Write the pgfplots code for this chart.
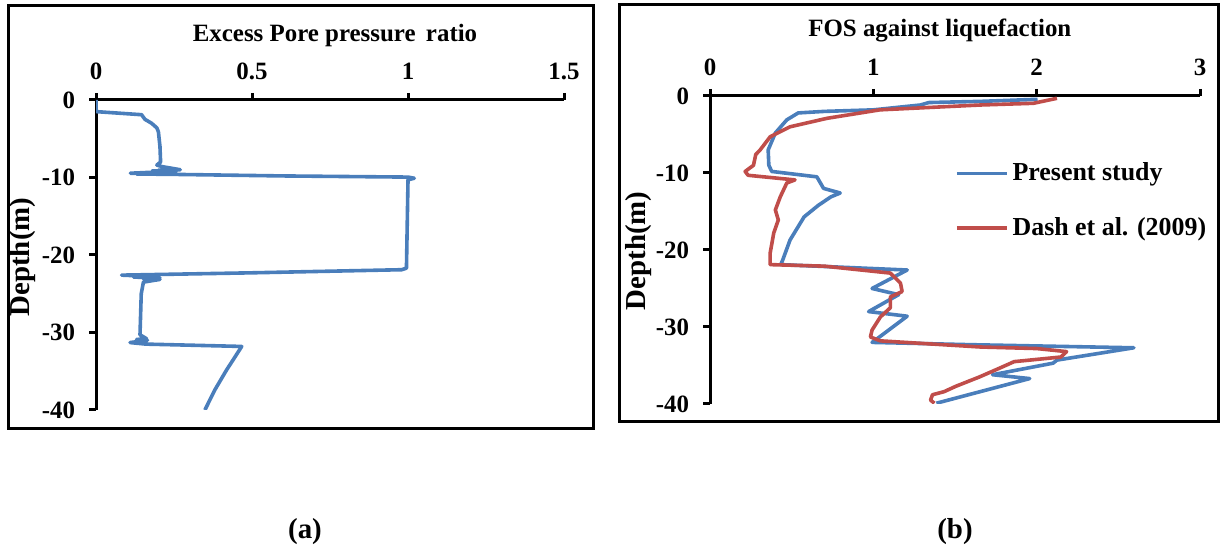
\documentclass[border=0pt]{standalone}
\usepackage{pgfplots}
\pgfplotsset{compat=1.18}
\usepackage{fontspec}
\setmainfont{Liberation Serif}

\definecolor{fosblue}{RGB}{74,126,187}
\definecolor{dashred}{RGB}{192,77,74}

% Depth profile of the excess pore pressure ratio
\pgfplotstableread{
r      d
0      0
0      -1.5
0.146  -1.9
0.157  -2.5
0.178  -3.0
0.195  -3.6
0.200  -4.1
0.205  -6.0
0.207  -8.0
0.195  -8.4
0.212  -8.6
0.270  -9.0
0.200  -9.05
0.260  -9.1
0.180  -9.15
0.250  -9.2
0.110  -9.45
0.230  -9.5
0.130  -9.55
0.250  -9.6
0.600  -9.8
1.000  -9.95
1.020  -10.1
1.000  -10.3
0.995  -21.7
0.980  -21.9
0.500  -22.3
0.082  -22.6
0.200  -22.8
0.120  -22.85
0.205  -22.95
0.150  -23.0
0.205  -23.15
0.152  -23.5
0.145  -25.0
0.141  -30.3
0.162  -30.8
0.130  -30.9
0.165  -31.0
0.109  -31.3
0.160  -31.5
0.467  -31.8
0.440  -33.5
0.419  -34.8
0.381  -37.4
0.349  -40.0
}\ruratio

% Factor of safety, present study
\pgfplotstableread{
f      d
2.005  -0.43
1.656  -0.70
1.340  -0.85
1.288  -1.17
1.000  -1.80
0.700  -2.00
0.540  -2.20
0.470  -3.10
0.400  -4.80
0.356  -7.00
0.360  -9.00
0.378  -9.80
0.654  -10.5
0.695  -12.0
0.797  -12.6
0.740  -13.1
0.663  -14.2
0.576  -15.7
0.490  -18.7
0.445  -21.3
0.433  -21.9
1.207  -22.6
0.992  -25.0
1.155  -25.8
0.971  -28.0
1.207  -28.6
1.012  -31.7
0.992  -32.0
1.600  -32.3
2.595  -32.7
2.124  -34.3
2.100  -34.7
1.730  -36.2
1.957  -36.7
1.386  -39.9
}\fospresent

% Factor of safety, Dash et al. (2009)
\pgfplotstableread{
f      d
2.124  -0.30
1.980  -0.95
1.656  -1.17
1.040  -1.80
0.716  -2.90
0.490  -4.00
0.368  -5.30
0.307  -7.00
0.280  -7.6
0.266  -9.00
0.215  -9.80
0.233  -10.3
0.520  -10.9
0.470  -11.3
0.430  -13.1
0.400  -14.8
0.418  -16.1
0.390  -17.8
0.380  -19.0
0.368  -20.4
0.368  -21.9
0.700  -22.1
1.104  -23.0
1.166  -24.3
1.176  -25.4
1.104  -26.1
1.104  -27.5
1.043  -28.7
0.992  -30.4
0.982  -31.3
1.043  -31.8
1.656  -32.6
2.000  -32.8
2.183  -33.2
2.148  -33.9
1.862  -34.5
1.767  -35.4
1.648  -36.5
1.505  -37.7
1.433  -38.4
1.362  -38.8
1.350  -39.5
1.374  -39.9
}\fosdash

\pgfplotsset{
  depthaxis/.style={
    scale only axis,
    axis x line=top,
    axis y line=left,
    axis line style={line width=1.5bp,-},
    tick style={line width=1.5bp,black},
    major tick length=3.5bp,
    tick align=outside,
    ymin=-40, ymax=0,
    ytick={-40,-30,-20,-10,0},
    font=\fontsize{12.5}{14}\selectfont\bfseries,
    /pgf/number format/assume math mode=true,
    xticklabel shift=3bp,
    yticklabel shift=3.5bp,
    label style={font=\fontsize{12.5}{14}\selectfont\bfseries},
    ylabel={Depth(m)},
    every axis plot/.append style={line width=1.8bp},
  },
}

\begin{document}
\begin{tikzpicture}[x=0.5bp,y=0.5bp]
\path[use as bounding box] (0,0) rectangle (1220,549);
% panel frames
\draw[line width=1.5bp] (8,543) rectangle (593,120);
\draw[line width=1.5bp] (619,544) rectangle (1218.5,127);

\begin{axis}[depthaxis,
  at={(48bp,69.5bp)}, anchor=south west,
  width=234bp, height=155bp,
  xmin=0, xmax=1.5, xtick={0,0.5,1,1.5},
  xlabel={Excess Pore pressure\, ratio},
  xlabel style={at={(axis description cs:0.5107,1)}, anchor=center, yshift=32bp},
  ylabel style={at={(axis description cs:-0.156,0.4935)}, anchor=center,
    font=\fontsize{14.5}{16}\selectfont\bfseries},
]
\addplot[fosblue, line join=round] table[x=r,y=d] {\ruratio};
\end{axis}

\begin{axis}[depthaxis,
  at={(355bp,72.5bp)}, anchor=south west,
  width=245bp, height=154bp,
  xmin=0, xmax=3, xtick={0,1,2,3},
  xlabel={FOS against liquefaction},
  xlabel style={at={(axis description cs:0.469,1)}, anchor=center, yshift=33bp},
  ylabel style={at={(axis description cs:-0.1449,0.4968)}, anchor=center,
    font=\fontsize{14.5}{16}\selectfont\bfseries},
  legend style={at={(axis description cs:0.487,0.81)}, anchor=north west,
    draw=none, fill=none, row sep=13bp,
    font=\fontsize{13}{15}\selectfont\bfseries},
  legend cell align=left,
  legend image code/.code={\draw[#1] (0bp,0bp) -- (25bp,0bp);},
]
\addplot[fosblue, line join=round] table[x=f,y=d] {\fospresent};
\addlegendentry{Present study}
\addplot[dashred, line join=round] table[x=f,y=d] {\fosdash};
\addlegendentry{Dash et al. (2009)}
\end{axis}

\node[font=\fontsize{14.5}{16}\selectfont\bfseries] at (305,17) {(a)};
\node[font=\fontsize{14.5}{16}\selectfont\bfseries] at (955,17) {(b)};
\end{tikzpicture}
\end{document}
